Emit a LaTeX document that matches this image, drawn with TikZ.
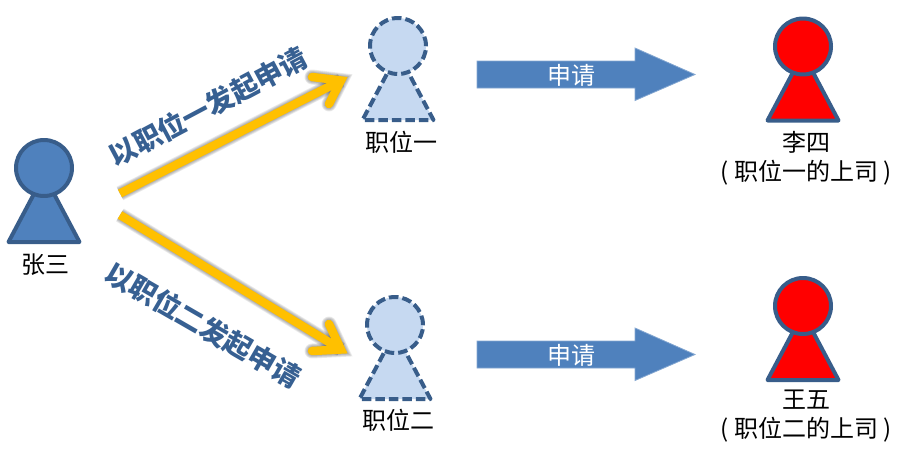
\documentclass[tikz,border=0pt]{standalone}
\usepackage{fontspec}
\setmainfont{Noto Sans CJK SC}
\usetikzlibrary{calc}
\definecolor{edgeblue}{HTML}{385D8A}
\definecolor{solidblue}{HTML}{4F81BD}
\definecolor{paleblue}{HTML}{C6D9F1}
\definecolor{titleblue}{HTML}{376092}
\definecolor{gold}{HTML}{FFC000}
\tikzset{
  x=1pt,y=-1pt,
  outline/.style={draw=edgeblue,line width=4pt,line join=round},
  solidperson/.style={outline,fill=#1},
  dashperson/.style={outline,fill=paleblue,dash pattern=on 9.5pt off 4pt},
  caption/.style={font=\fontsize{24}{28.5}\selectfont,text=black,align=center,inner sep=0pt},
  request/.style={font=\fontsize{24}{28}\selectfont,text=white,inner sep=0pt},
  title/.style={font=\fontsize{27.5}{32}\selectfont\bfseries,text=titleblue,inner sep=0pt},
  shaft/.style={draw=gold,line width=8.5pt},
  barbs/.style={draw=gold,line width=8.5pt,line cap=round,line join=miter,miter limit=12},
  blockarrow/.style={draw=solidblue!70!white,line width=0.8pt,fill=solidblue,line join=miter},
}
% One person: a triangular body with a round head on top of it
\newcommand{\personfig}[3]{% name, centre of head, style
  \coordinate (#1) at #2;
  \path[#3] ($(#1)+(0,7)$) -- ($(#1)+(35.5,74)$) -- ($(#1)+(-35.5,74)$) -- cycle;
  \node[#3,circle,minimum size=56pt,inner sep=0pt] (#1head) at (#1) {};
}
% Soft drop shadow under a stroked path: layers of faint grey widening outward
\newcommand{\softshadow}[1]{%
  \foreach \w in {15,13.5,12,10.5,9}{
    \begin{scope}[shift={(2.5,3.5)},draw opacity=0.08,line width=\w pt]
      #1
    \end{scope}
  }
}
\begin{document}
\begin{tikzpicture}
\useasboundingbox (0,0) rectangle (906,450);

% People
\personfig{zhang}{(44,168)}{solidperson=solidblue}
\personfig{posa}{(398,46)}{dashperson}
\personfig{posb}{(395,325)}{dashperson}
\personfig{li}{(803,46.5)}{solidperson=red}
\personfig{wang}{(803,306)}{solidperson=red}

% Captions
\node[caption] (capzhang) at (45,265) {张三};
\node[caption] (capa) at (401,142) {职位一};
\node[caption] (capb) at (398,420) {职位二};
\node[caption] (capli) at (806,158.5) {李四\\( 职位一的上司 )};
\node[caption] (capwang) at (806,416) {王五\\( 职位二的上司 )};

% Anchor points of the two yellow arrows
\coordinate (upstart) at (120,193.5);
\coordinate (uptip) at (341,80.5);
\coordinate (upbarbl) at (312,77);
\coordinate (upbarbr) at (329,104);
\coordinate (lowstart) at (120,215);
\coordinate (lowtip) at (341,349.5);
\coordinate (lowbarbl) at (329,324);
\coordinate (lowbarbr) at (312,351);

\softshadow{\draw[black] (upstart) -- (uptip); \draw[black,line cap=round] (upbarbl) -- (uptip) -- (upbarbr);}
\softshadow{\draw[black] (lowstart) -- (lowtip); \draw[black,line cap=round] (lowbarbl) -- (lowtip) -- (lowbarbr);}

\draw[shaft] (upstart) -- (uptip);
\draw[barbs] (upbarbl) -- (uptip) -- (upbarbr);
\draw[shaft] (lowstart) -- (lowtip);
\draw[barbs] (lowbarbl) -- (lowtip) -- (lowbarbr);

% Slanted titles along the yellow arrows
\node[title,rotate=28] (titleup) at (208,107) {以职位一发起申请};
\node[title,rotate=-30] (titlelow) at (203,325) {以职位二发起申请};

% Block arrows towards the superiors
\draw[blockarrow] (477,61) -- (635,61) -- (635,48) -- (695,74.5) -- (635,100.5) -- (635,88) -- (477,88) -- cycle;
\node[request] (reqa) at (571,75) {申请};
\draw[blockarrow] (477,341) -- (635,341) -- (635,328) -- (695,354.5) -- (635,380.5) -- (635,368) -- (477,368) -- cycle;
\node[request] (reqb) at (571,355) {申请};
\end{tikzpicture}
\end{document}
